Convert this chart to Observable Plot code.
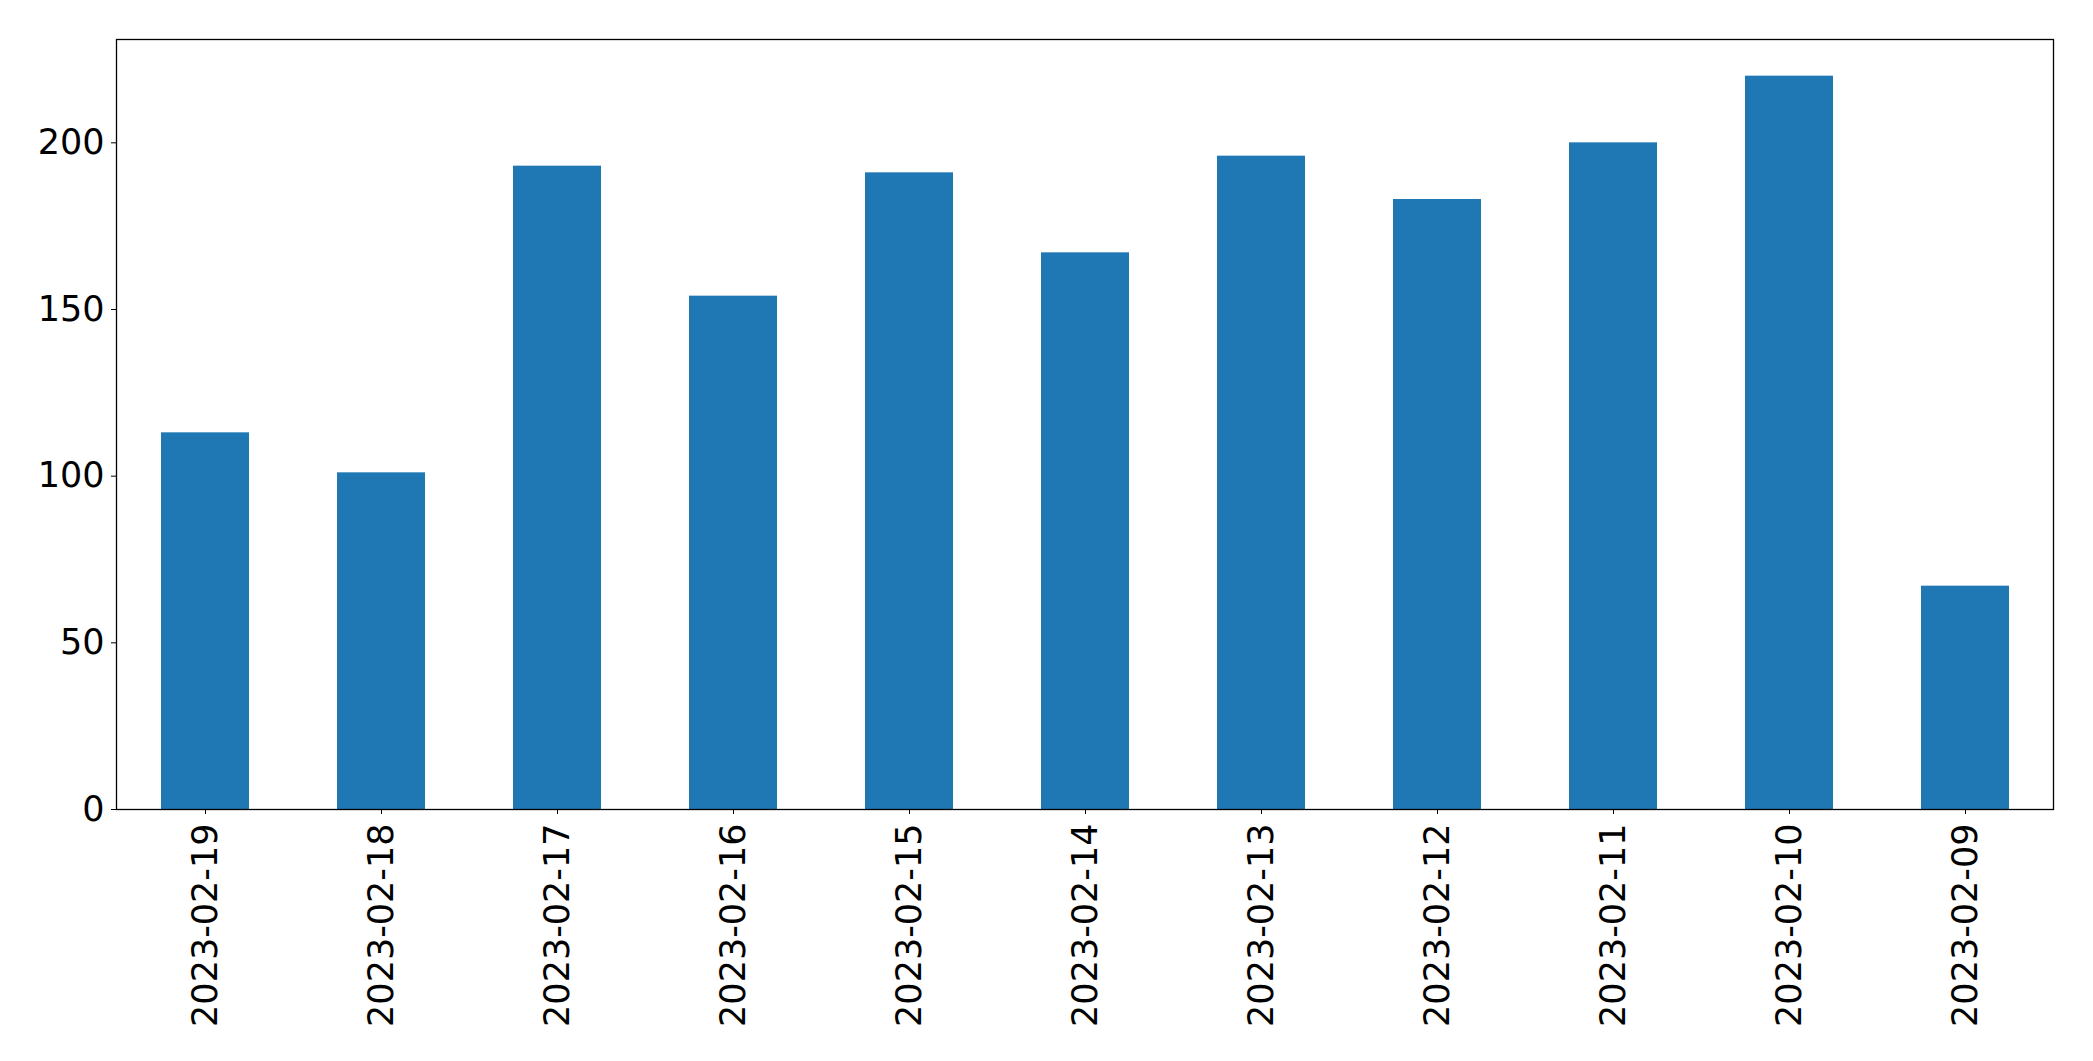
<!DOCTYPE html>
<html><head><meta charset="utf-8">
<script src="https://cdn.jsdelivr.net/npm/d3@7"></script>
<script src="https://cdn.jsdelivr.net/npm/@observablehq/plot@0.6"></script>
<style>html,body{margin:0;padding:0;background:#fff;overflow:hidden}</style>
</head><body><div id="chart"></div>
<script>
const dates = ["2023-02-19","2023-02-18","2023-02-17","2023-02-16","2023-02-15","2023-02-14","2023-02-13","2023-02-12","2023-02-11","2023-02-10","2023-02-09"];
const counts = [113,101,193,154,191,167,196,183,200,220,67];
const yTicks = [0,50,100,150,200];
const data = dates.map((d,i)=>({date:d, count:counts[i]}));
const chart = Plot.plot({
  width:2093, height:1061,
  marginLeft:116, marginRight:40, marginTop:39, marginBottom:252,
  style:{fontFamily:"'DejaVu Sans', sans-serif", fontSize:"35px", color:"black", background:"white"},
  x:{domain:dates, paddingInner:0.5, paddingOuter:0.25, label:null},
  y:{domain:[0,231], label:null},
  marks:[
    Plot.barY(data,{x:"date", y:"count", fill:"#1f77b4"}),
    Plot.frame({stroke:"black", strokeWidth:1.3}),
    Plot.axisX({tickRotate:-90, tickSize:5, tickPadding:9, fontSize:35, stroke:"black", fill:"black", label:null}),
    Plot.axisY({ticks:yTicks, tickSize:5, tickPadding:7, fontSize:35, stroke:"black", fill:"black", label:null})
  ]
});
document.getElementById("chart").appendChild(chart);
</script>
</body></html>
